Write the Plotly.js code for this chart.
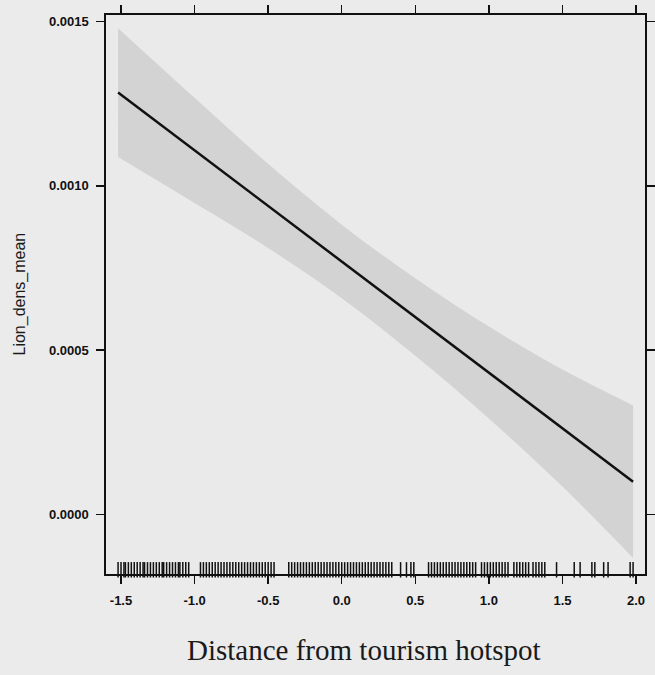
<!DOCTYPE html>
<html>
<head>
<meta charset="utf-8">
<script src="https://cdn.plot.ly/plotly-3.0.1.min.js"></script>
<style>
  html, body { margin: 0; padding: 0; background: #ebebeb; }
  #chart { width: 655px; height: 675px; }
</style>
</head>
<body>
<div id="chart"></div>
<script>
// Grid of distance values where the fitted effect was read
const distance = [-1.52, -1.0, -0.5, 0.0, 0.5, 1.0, 1.5, 1.98];
// Fitted Lion_dens_mean
const fitMean = [0.001284, 0.001108, 0.000939, 0.000770, 0.000601, 0.000432, 0.000263, 0.000100];
// Confidence band
const ciUpper = [0.001480, 0.001268, 0.001067, 0.000882, 0.000719, 0.000572, 0.000441, 0.000332];
const ciLower = [0.001088, 0.000948, 0.000811, 0.000658, 0.000483, 0.000292, 0.000085, -0.000132];

// Rug of observed distance values
const rugDistance = [
  -1.52, -1.50, -1.48, -1.47, -1.45, -1.43, -1.41, -1.39, -1.37, -1.35, -1.34, -1.32, -1.30,
  -1.28, -1.26, -1.24, -1.22, -1.21, -1.19, -1.17, -1.15, -1.13, -1.11, -1.10, -1.08, -1.06, -1.04,
  -0.96, -0.94, -0.92, -0.90, -0.88, -0.86, -0.84, -0.82, -0.80, -0.78, -0.76, -0.74, -0.72,
  -0.70, -0.68, -0.66, -0.64, -0.62, -0.60, -0.58, -0.56, -0.54, -0.52, -0.50, -0.48, -0.46,
  -0.36, -0.34, -0.32, -0.30, -0.28, -0.26, -0.24, -0.22, -0.20, -0.18, -0.16, -0.14, -0.12,
  -0.10, -0.08, -0.06, -0.04, -0.02, 0.00, 0.02, 0.04, 0.06, 0.08, 0.10, 0.12, 0.14, 0.16,
  0.18, 0.20, 0.22, 0.24, 0.26, 0.28, 0.30, 0.32, 0.34,
  0.40, 0.44, 0.47, 0.49,
  0.59, 0.61, 0.63, 0.65, 0.67, 0.69, 0.71, 0.73, 0.75, 0.77, 0.79, 0.81, 0.83, 0.85, 0.87, 0.89, 0.91,
  0.95, 0.97, 0.99, 1.01, 1.03, 1.05, 1.07, 1.09, 1.11, 1.13,
  1.17, 1.19, 1.21, 1.23, 1.25, 1.27, 1.30, 1.32, 1.34, 1.36, 1.38,
  1.46, 1.58, 1.62, 1.70, 1.72, 1.78, 1.81, 1.96, 1.98
];

const xTickVals = [-1.5, -1.0, -0.5, 0.0, 0.5, 1.0, 1.5, 2.0];
const xTickLabels = ['-1.5', '-1.0', '-0.5', '0.0', '0.5', '1.0', '1.5', '2.0'];
const yTickVals = [0.0, 0.0005, 0.0010, 0.0015];
const yTickLabels = ['0.0000', '0.0005', '0.0010', '0.0015'];

const xTitle = 'Distance from tourism hotspot';
const yTitle = 'Lion_dens_mean';

const traces = [
  {
    x: distance, y: ciLower, type: 'scatter', mode: 'lines',
    line: { width: 0, shape: 'spline', smoothing: 1, color: 'rgba(0,0,0,0)' },
    hoverinfo: 'skip', showlegend: false
  },
  {
    x: distance, y: ciUpper, type: 'scatter', mode: 'lines',
    fill: 'tonexty', fillcolor: '#d3d3d3',
    line: { width: 0, shape: 'spline', smoothing: 1, color: 'rgba(0,0,0,0)' },
    hoverinfo: 'skip', showlegend: false
  },
  {
    x: distance, y: fitMean, type: 'scatter', mode: 'lines',
    line: { color: '#111111', width: 2.5 },
    showlegend: false
  },
  {
    x: rugDistance, y: rugDistance.map(() => 0.0075), yaxis: 'y2',
    type: 'scatter', mode: 'markers',
    marker: { symbol: 'line-ns-open', size: 11, color: '#111111', line: { color: '#111111', width: 1.5 } },
    cliponaxis: false, showlegend: false, hoverinfo: 'x'
  }
];

const tickFont = { family: 'Liberation Sans, Arial, sans-serif', size: 13, color: '#111111', weight: 'bold' };

const layout = {
  width: 655, height: 675,
  margin: { l: 106, r: 10, t: 15, b: 101 },
  paper_bgcolor: '#ebebeb',
  plot_bgcolor: '#eaeaea',
  showlegend: false,
  xaxis: {
    range: [-1.602, 2.061],
    tickvals: xTickVals, ticktext: xTickLabels,
    ticks: 'outside', ticklen: 8, tickwidth: 1.5, tickcolor: '#111',
    showline: true, linecolor: '#111', linewidth: 1.6, mirror: 'ticks',
    showgrid: false, zeroline: false,
    tickfont: tickFont, ticklabelstandoff: 6
  },
  yaxis: {
    range: [-0.000181, 0.00152],
    tickvals: yTickVals, ticktext: yTickLabels,
    ticks: 'outside', ticklen: 8, tickwidth: 1.5, tickcolor: '#111',
    showline: true, linecolor: '#111', linewidth: 1.6, mirror: 'ticks',
    showgrid: false, zeroline: false,
    tickfont: tickFont, ticklabelstandoff: 5
  },
  yaxis2: {
    overlaying: 'y', range: [0, 1], visible: false, fixedrange: true
  },
  annotations: [
    {
      text: xTitle, xref: 'paper', yref: 'paper',
      x: 0.4787, y: -0.136, xanchor: 'center', yanchor: 'middle',
      showarrow: false,
      font: { family: 'Liberation Serif, Times New Roman, serif', size: 29, color: '#1a1a1a' }
    },
    {
      text: yTitle, xref: 'paper', yref: 'paper',
      x: -0.1614, y: 0.5, xanchor: 'center', yanchor: 'middle',
      textangle: -90, showarrow: false,
      font: { family: 'Liberation Sans, Arial, sans-serif', size: 16, color: '#1a1a1a' }
    }
  ]
};

Plotly.newPlot('chart', traces, layout, { displayModeBar: false, staticPlot: true });
</script>
</body>
</html>
